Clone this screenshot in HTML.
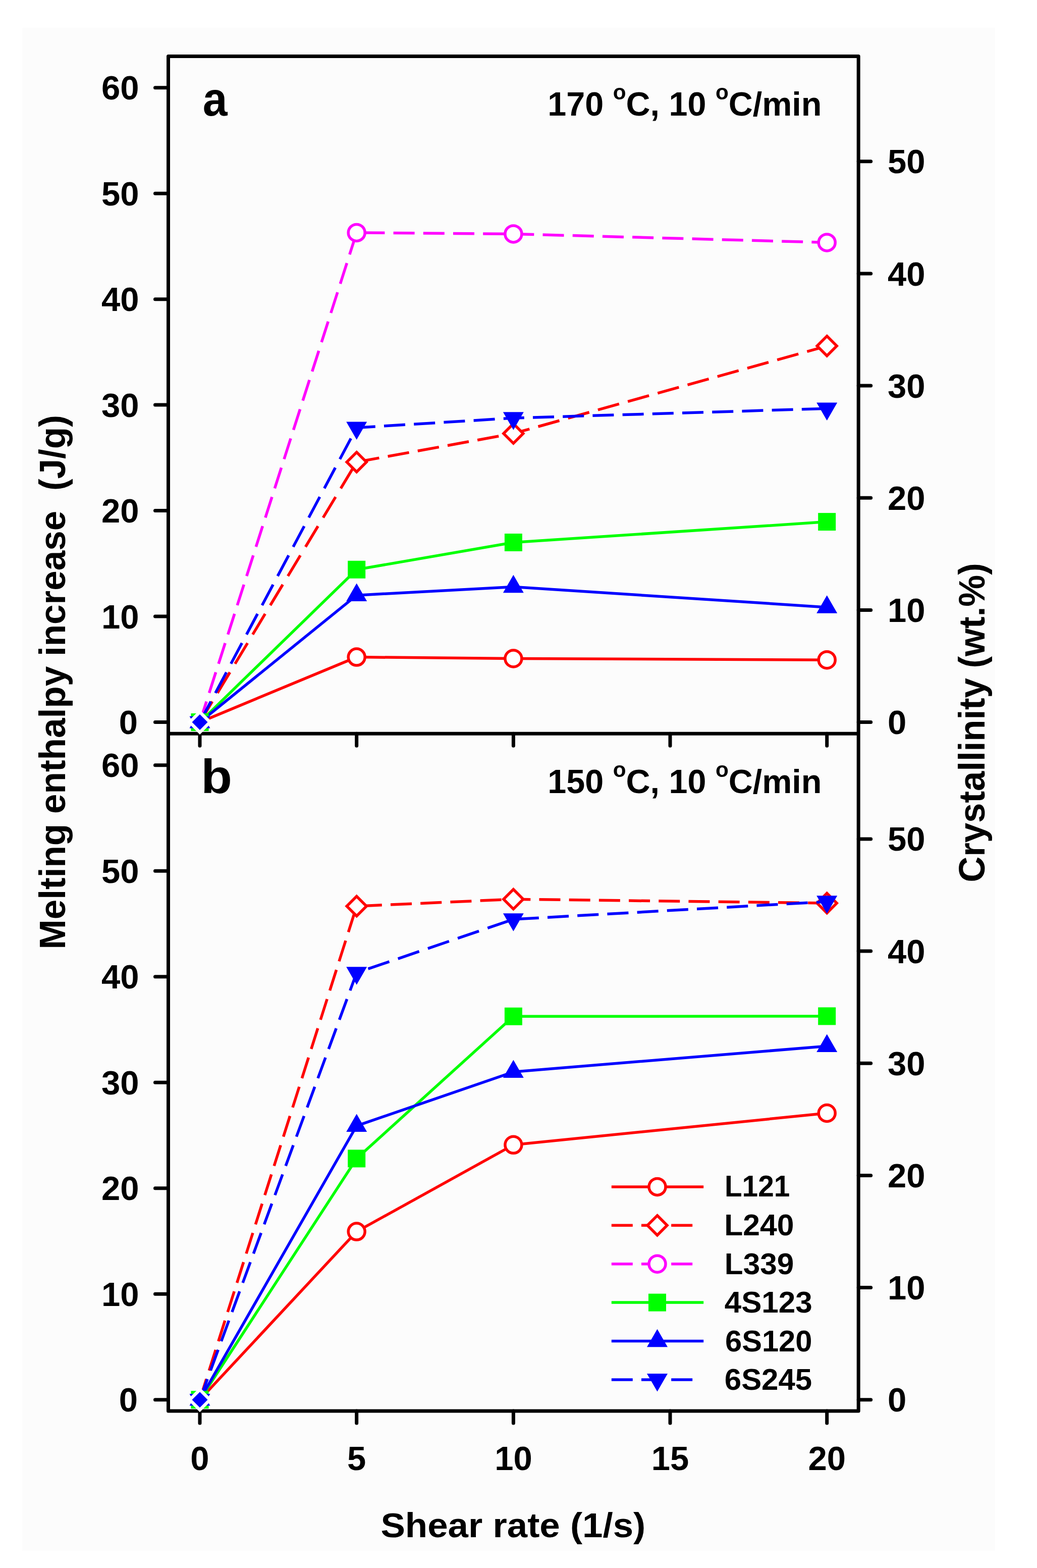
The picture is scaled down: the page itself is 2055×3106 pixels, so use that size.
<!DOCTYPE html>
<html><head><meta charset="utf-8"><title>Melting enthalpy increase vs shear rate</title>
<style>html,body{margin:0;padding:0;background:#fff;}svg{display:block;}</style></head>
<body><svg width="2055" height="3106" viewBox="0 0 2055 3106"><rect x="44" y="55" width="1928" height="3017" fill="#fcfcfc"/>
<path d="M333.5 111.5H1701.2V2795.0H333.5Z" stroke="#000" stroke-width="7" fill="none" stroke-linejoin="round"/>
<path d="M333.5 1453.2H1701.2" stroke="#000" stroke-width="7" fill="none"/>
<path d="M307.5 1430.6H333.5M307.5 1221.1H333.5M307.5 1011.6H333.5M307.5 802.1H333.5M307.5 592.7H333.5M307.5 383.2H333.5M307.5 173.7H333.5M1701.2 1430.6H1725.7M1701.2 1208.4H1725.7M1701.2 986.3H1725.7M1701.2 764.1H1725.7M1701.2 542.0H1725.7M1701.2 319.8H1725.7M396.0 1453.2V1477.2M706.7 1453.2V1477.2M1017.4 1453.2V1477.2M1328.0 1453.2V1477.2M1638.7 1453.2V1477.2M307.5 2772.7H333.5M307.5 2563.2H333.5M307.5 2353.7H333.5M307.5 2144.2H333.5M307.5 1934.8H333.5M307.5 1725.3H333.5M307.5 1515.8H333.5M1701.2 2772.7H1725.7M1701.2 2550.5H1725.7M1701.2 2328.4H1725.7M1701.2 2106.2H1725.7M1701.2 1884.1H1725.7M1701.2 1661.9H1725.7M396.0 2795.0V2819.0M706.7 2795.0V2819.0M1017.4 2795.0V2819.0M1328.0 2795.0V2819.0M1638.7 2795.0V2819.0" stroke="#000" stroke-width="7" stroke-linecap="round" fill="none"/>
<polyline points="396.0,1430.6 706.7,1301.6 1017.4,1304.5 1638.7,1307.2" fill="none" stroke="#ff0000" stroke-width="5.5" stroke-linejoin="round"/>
<circle cx="706.7" cy="1301.6" r="16.5" fill="#fff" stroke="#ff0000" stroke-width="5.5"/>
<circle cx="1017.4" cy="1304.5" r="16.5" fill="#fff" stroke="#ff0000" stroke-width="5.5"/>
<circle cx="1638.7" cy="1307.2" r="16.5" fill="#fff" stroke="#ff0000" stroke-width="5.5"/>
<line x1="396.0" y1="1430.6" x2="706.7" y2="915.3" stroke="#ff0000" stroke-width="5.5" stroke-dasharray="47.87 19.73" stroke-dashoffset="0.00"/>
<line x1="706.7" y1="915.3" x2="1017.4" y2="858.7" stroke="#ff0000" stroke-width="5.5" stroke-dasharray="42.69 17.48" stroke-dashoffset="57.43"/>
<line x1="1017.4" y1="858.7" x2="1638.7" y2="685.3" stroke="#ff0000" stroke-width="5.5" stroke-dasharray="43.61 17.86" stroke-dashoffset="10.49"/>
<path d="M706.7 895.8L726.2 915.3L706.7 934.8L687.2 915.3Z" fill="#fff" stroke="#ff0000" stroke-width="5.5" stroke-linejoin="miter"/>
<path d="M1017.4 839.2L1036.8 858.7L1017.4 878.2L997.9 858.7Z" fill="#fff" stroke="#ff0000" stroke-width="5.5" stroke-linejoin="miter"/>
<path d="M1638.7 665.8L1658.2 685.3L1638.7 704.8L1619.2 685.3Z" fill="#fff" stroke="#ff0000" stroke-width="5.5" stroke-linejoin="miter"/>
<line x1="396.0" y1="1430.6" x2="706.7" y2="460.9" stroke="#ff00ff" stroke-width="5.5" stroke-dasharray="43.05 17.75" stroke-dashoffset="0.00"/>
<line x1="706.7" y1="460.9" x2="1017.4" y2="463.4" stroke="#ff00ff" stroke-width="5.5" stroke-dasharray="42.00 17.20" stroke-dashoffset="45.50"/>
<line x1="1017.4" y1="463.4" x2="1638.7" y2="480.4" stroke="#ff00ff" stroke-width="5.5" stroke-dasharray="42.02 17.21" stroke-dashoffset="1.10"/>
<circle cx="706.7" cy="460.9" r="16.5" fill="#fff" stroke="#ff00ff" stroke-width="5.5"/>
<circle cx="1017.4" cy="463.4" r="16.5" fill="#fff" stroke="#ff00ff" stroke-width="5.5"/>
<circle cx="1638.7" cy="480.4" r="16.5" fill="#fff" stroke="#ff00ff" stroke-width="5.5"/>
<polyline points="396.0,1430.6 706.7,1128.3 1017.4,1074.5 1638.7,1033.6" fill="none" stroke="#00ff00" stroke-width="5.5" stroke-linejoin="round"/>
<rect x="689.2" y="1110.8" width="35.0" height="35.0" fill="#00ff00"/>
<rect x="999.9" y="1057.0" width="35.0" height="35.0" fill="#00ff00"/>
<rect x="1621.2" y="1016.1" width="35.0" height="35.0" fill="#00ff00"/>
<polyline points="396.0,1430.6 706.7,1179.2 1017.4,1162.5 1638.7,1202.9" fill="none" stroke="#0000ff" stroke-width="5.5" stroke-linejoin="round"/>
<polygon points="706.7,1155.5 727.2,1191.1 686.2,1191.1" fill="#0000ff"/>
<polygon points="1017.4,1138.8 1037.8,1174.3 996.9,1174.3" fill="#0000ff"/>
<polygon points="1638.7,1179.2 1659.2,1214.7 1618.2,1214.7" fill="#0000ff"/>
<line x1="396.0" y1="1430.6" x2="706.7" y2="847.2" stroke="#0000ff" stroke-width="5.5" stroke-dasharray="46.45 19.15" stroke-dashoffset="0.00"/>
<line x1="706.7" y1="847.2" x2="1017.4" y2="828.1" stroke="#0000ff" stroke-width="5.5" stroke-dasharray="42.08 17.23" stroke-dashoffset="4.91"/>
<line x1="1017.4" y1="828.1" x2="1638.7" y2="809.3" stroke="#0000ff" stroke-width="5.5" stroke-dasharray="42.02 17.21" stroke-dashoffset="20.61"/>
<polygon points="706.7,870.9 727.2,835.4 686.2,835.4" fill="#0000ff"/>
<polygon points="1017.4,851.8 1037.8,816.3 996.9,816.3" fill="#0000ff"/>
<polygon points="1638.7,832.9 1659.2,797.4 1618.2,797.4" fill="#0000ff"/>
<rect x="378.5" y="1413.1" width="35.0" height="35.0" fill="#00ff00"/>
<polygon points="396.0,1406.9 416.5,1442.4 375.5,1442.4" fill="#0000ff"/>
<polygon points="396.0,1454.3 416.5,1418.8 375.5,1418.8" fill="#0000ff"/>
<path d="M396.0 1406.1L420.5 1430.6L396.0 1455.1L371.5 1430.6Z" fill="#fff"/>
<path d="M396.0 1415.1L411.5 1430.6L396.0 1446.1L380.5 1430.6Z" fill="#0000ff"/>
<polyline points="396.0,2772.7 706.7,2439.6 1017.4,2267.8 1638.7,2205.0" fill="none" stroke="#ff0000" stroke-width="5.5" stroke-linejoin="round"/>
<circle cx="706.7" cy="2439.6" r="16.5" fill="#fff" stroke="#ff0000" stroke-width="5.5"/>
<circle cx="1017.4" cy="2267.8" r="16.5" fill="#fff" stroke="#ff0000" stroke-width="5.5"/>
<circle cx="1638.7" cy="2205.0" r="16.5" fill="#fff" stroke="#ff0000" stroke-width="5.5"/>
<line x1="396.0" y1="2772.7" x2="706.7" y2="1795.0" stroke="#ff0000" stroke-width="5.5" stroke-dasharray="43.02 17.73" stroke-dashoffset="0.00"/>
<line x1="706.7" y1="1795.0" x2="1017.4" y2="1781.2" stroke="#ff0000" stroke-width="5.5" stroke-dasharray="42.04 17.22" stroke-dashoffset="51.15"/>
<line x1="1017.4" y1="1781.2" x2="1638.7" y2="1789.0" stroke="#ff0000" stroke-width="5.5" stroke-dasharray="42.00 17.20" stroke-dashoffset="8.10"/>
<path d="M706.7 1775.5L726.2 1795.0L706.7 1814.5L687.2 1795.0Z" fill="#fff" stroke="#ff0000" stroke-width="5.5" stroke-linejoin="miter"/>
<path d="M1017.4 1761.7L1036.8 1781.2L1017.4 1800.7L997.9 1781.2Z" fill="#fff" stroke="#ff0000" stroke-width="5.5" stroke-linejoin="miter"/>
<path d="M1638.7 1769.5L1658.2 1789.0L1638.7 1808.5L1619.2 1789.0Z" fill="#fff" stroke="#ff0000" stroke-width="5.5" stroke-linejoin="miter"/>
<polyline points="396.0,2772.7 706.7,2294.9 1017.4,2013.3 1638.7,2012.9" fill="none" stroke="#00ff00" stroke-width="5.5" stroke-linejoin="round"/>
<rect x="689.2" y="2277.4" width="35.0" height="35.0" fill="#00ff00"/>
<rect x="999.9" y="1995.8" width="35.0" height="35.0" fill="#00ff00"/>
<rect x="1621.2" y="1995.4" width="35.0" height="35.0" fill="#00ff00"/>
<polyline points="396.0,2772.7 706.7,2230.1 1017.4,2123.3 1638.7,2072.2" fill="none" stroke="#0000ff" stroke-width="5.5" stroke-linejoin="round"/>
<polygon points="706.7,2206.5 727.2,2242.0 686.2,2242.0" fill="#0000ff"/>
<polygon points="1017.4,2099.6 1037.8,2135.1 996.9,2135.1" fill="#0000ff"/>
<polygon points="1638.7,2048.5 1659.2,2084.0 1618.2,2084.0" fill="#0000ff"/>
<line x1="396.0" y1="2772.7" x2="706.7" y2="1927.0" stroke="#0000ff" stroke-width="5.5" stroke-dasharray="43.68 18.00" stroke-dashoffset="0.00"/>
<line x1="706.7" y1="1927.0" x2="1017.4" y2="1821.0" stroke="#0000ff" stroke-width="5.5" stroke-dasharray="44.38 18.17" stroke-dashoffset="38.46"/>
<line x1="1017.4" y1="1821.0" x2="1638.7" y2="1786.0" stroke="#0000ff" stroke-width="5.5" stroke-dasharray="42.07 17.23" stroke-dashoffset="50.88"/>
<polygon points="706.7,1950.7 727.2,1915.2 686.2,1915.2" fill="#0000ff"/>
<polygon points="1017.4,1844.7 1037.8,1809.2 996.9,1809.2" fill="#0000ff"/>
<polygon points="1638.7,1809.7 1659.2,1774.2 1618.2,1774.2" fill="#0000ff"/>
<rect x="378.5" y="2755.2" width="35.0" height="35.0" fill="#00ff00"/>
<polygon points="396.0,2749.0 416.5,2784.5 375.5,2784.5" fill="#0000ff"/>
<polygon points="396.0,2796.4 416.5,2760.9 375.5,2760.9" fill="#0000ff"/>
<path d="M396.0 2748.2L420.5 2772.7L396.0 2797.2L371.5 2772.7Z" fill="#fff"/>
<path d="M396.0 2757.2L411.5 2772.7L396.0 2788.2L380.5 2772.7Z" fill="#0000ff"/>
<text x="273.0" y="1454.1" font-family="'Liberation Sans', Arial, sans-serif" font-weight="bold" font-size="67" text-anchor="end">0</text>
<text x="275.5" y="1244.6" font-family="'Liberation Sans', Arial, sans-serif" font-weight="bold" font-size="67" text-anchor="end">10</text>
<text x="275.5" y="1035.1" font-family="'Liberation Sans', Arial, sans-serif" font-weight="bold" font-size="67" text-anchor="end">20</text>
<text x="275.5" y="825.6" font-family="'Liberation Sans', Arial, sans-serif" font-weight="bold" font-size="67" text-anchor="end">30</text>
<text x="275.5" y="616.2" font-family="'Liberation Sans', Arial, sans-serif" font-weight="bold" font-size="67" text-anchor="end">40</text>
<text x="275.5" y="406.7" font-family="'Liberation Sans', Arial, sans-serif" font-weight="bold" font-size="67" text-anchor="end">50</text>
<text x="275.5" y="197.2" font-family="'Liberation Sans', Arial, sans-serif" font-weight="bold" font-size="67" text-anchor="end">60</text>
<text x="1759" y="1454.1" font-family="'Liberation Sans', Arial, sans-serif" font-weight="bold" font-size="67">0</text>
<text x="1759" y="1231.9" font-family="'Liberation Sans', Arial, sans-serif" font-weight="bold" font-size="67">10</text>
<text x="1759" y="1009.8" font-family="'Liberation Sans', Arial, sans-serif" font-weight="bold" font-size="67">20</text>
<text x="1759" y="787.6" font-family="'Liberation Sans', Arial, sans-serif" font-weight="bold" font-size="67">30</text>
<text x="1759" y="565.5" font-family="'Liberation Sans', Arial, sans-serif" font-weight="bold" font-size="67">40</text>
<text x="1759" y="343.3" font-family="'Liberation Sans', Arial, sans-serif" font-weight="bold" font-size="67">50</text>
<text x="273.0" y="2796.2" font-family="'Liberation Sans', Arial, sans-serif" font-weight="bold" font-size="67" text-anchor="end">0</text>
<text x="275.5" y="2586.7" font-family="'Liberation Sans', Arial, sans-serif" font-weight="bold" font-size="67" text-anchor="end">10</text>
<text x="275.5" y="2377.2" font-family="'Liberation Sans', Arial, sans-serif" font-weight="bold" font-size="67" text-anchor="end">20</text>
<text x="275.5" y="2167.8" font-family="'Liberation Sans', Arial, sans-serif" font-weight="bold" font-size="67" text-anchor="end">30</text>
<text x="275.5" y="1958.3" font-family="'Liberation Sans', Arial, sans-serif" font-weight="bold" font-size="67" text-anchor="end">40</text>
<text x="275.5" y="1748.8" font-family="'Liberation Sans', Arial, sans-serif" font-weight="bold" font-size="67" text-anchor="end">50</text>
<text x="275.5" y="1539.3" font-family="'Liberation Sans', Arial, sans-serif" font-weight="bold" font-size="67" text-anchor="end">60</text>
<text x="1759" y="2796.2" font-family="'Liberation Sans', Arial, sans-serif" font-weight="bold" font-size="67">0</text>
<text x="1759" y="2574.0" font-family="'Liberation Sans', Arial, sans-serif" font-weight="bold" font-size="67">10</text>
<text x="1759" y="2351.9" font-family="'Liberation Sans', Arial, sans-serif" font-weight="bold" font-size="67">20</text>
<text x="1759" y="2129.7" font-family="'Liberation Sans', Arial, sans-serif" font-weight="bold" font-size="67">30</text>
<text x="1759" y="1907.6" font-family="'Liberation Sans', Arial, sans-serif" font-weight="bold" font-size="67">40</text>
<text x="1759" y="1685.4" font-family="'Liberation Sans', Arial, sans-serif" font-weight="bold" font-size="67">50</text>
<text x="396.0" y="2911.5" font-family="'Liberation Sans', Arial, sans-serif" font-weight="bold" font-size="67" text-anchor="middle">0</text>
<text x="706.7" y="2911.5" font-family="'Liberation Sans', Arial, sans-serif" font-weight="bold" font-size="67" text-anchor="middle">5</text>
<text x="1017.4" y="2911.5" font-family="'Liberation Sans', Arial, sans-serif" font-weight="bold" font-size="67" text-anchor="middle">10</text>
<text x="1328.0" y="2911.5" font-family="'Liberation Sans', Arial, sans-serif" font-weight="bold" font-size="67" text-anchor="middle">15</text>
<text x="1638.7" y="2911.5" font-family="'Liberation Sans', Arial, sans-serif" font-weight="bold" font-size="67" text-anchor="middle">20</text>
<text x="401.7" y="228.5" font-family="'Liberation Sans', Arial, sans-serif" font-weight="bold" font-size="94" textLength="48.8" lengthAdjust="spacingAndGlyphs">a</text>
<text x="398.2" y="1570.5" font-family="'Liberation Sans', Arial, sans-serif" font-weight="bold" font-size="95" textLength="61.7" lengthAdjust="spacingAndGlyphs">b</text>
<text transform="translate(1085.3,0) scale(1.0075,1)" x="0" y="229.0" font-family="'Liberation Sans', Arial, sans-serif" font-weight="bold" font-size="66">170 <tspan font-size="42" dy="-32">o</tspan><tspan dy="32">C, 10 </tspan><tspan font-size="42" dy="-32">o</tspan><tspan dy="32">C/min</tspan></text>
<text transform="translate(1085.3,0) scale(1.0075,1)" x="0" y="1571.1" font-family="'Liberation Sans', Arial, sans-serif" font-weight="bold" font-size="66">150 <tspan font-size="42" dy="-32">o</tspan><tspan dy="32">C, 10 </tspan><tspan font-size="42" dy="-32">o</tspan><tspan dy="32">C/min</tspan></text>
<text transform="translate(128.5,1880.5) rotate(-90)" font-family="'Liberation Sans', Arial, sans-serif" font-weight="bold" font-size="73" xml:space="preserve" textLength="1058.4" lengthAdjust="spacingAndGlyphs">Melting enthalpy increase  (J/g)</text>
<text transform="translate(1951,1747.8) rotate(-90)" font-family="'Liberation Sans', Arial, sans-serif" font-weight="bold" font-size="73" textLength="632.5" lengthAdjust="spacingAndGlyphs">Crystallinity (wt.%)</text>
<text x="754.4" y="3045" font-family="'Liberation Sans', Arial, sans-serif" font-weight="bold" font-size="69" textLength="524.9" lengthAdjust="spacingAndGlyphs">Shear rate (1/s)</text>
<path d="M1211.8 2350.9H1394.2" stroke="#ff0000" stroke-width="5.5"/>
<circle cx="1302.5" cy="2350.9" r="16.5" fill="#fff" stroke="#ff0000" stroke-width="5.5"/>
<text x="1435.9" y="2370.3" font-family="'Liberation Sans', Arial, sans-serif" font-weight="bold" font-size="60" textLength="129.4" lengthAdjust="spacingAndGlyphs">L121</text>
<path d="M1211.8 2427.3H1376" stroke="#ff0000" stroke-width="5.5" stroke-dasharray="42 17.2"/>
<path d="M1302.5 2407.8L1322.0 2427.3L1302.5 2446.8L1283.0 2427.3Z" fill="#fff" stroke="#ff0000" stroke-width="5.5" stroke-linejoin="miter"/>
<text x="1435.2" y="2446.9" font-family="'Liberation Sans', Arial, sans-serif" font-weight="bold" font-size="60" textLength="138.3" lengthAdjust="spacingAndGlyphs">L240</text>
<path d="M1211.8 2503.7H1376" stroke="#ff00ff" stroke-width="5.5" stroke-dasharray="42 17.2"/>
<circle cx="1302.5" cy="2503.7" r="16.5" fill="#fff" stroke="#ff00ff" stroke-width="5.5"/>
<text x="1435.8" y="2523.5" font-family="'Liberation Sans', Arial, sans-serif" font-weight="bold" font-size="60" textLength="137.5" lengthAdjust="spacingAndGlyphs">L339</text>
<path d="M1211.8 2580.1H1394.2" stroke="#00ff00" stroke-width="5.5"/>
<rect x="1285.0" y="2562.6" width="35.0" height="35.0" fill="#00ff00"/>
<text x="1435.7" y="2600.1" font-family="'Liberation Sans', Arial, sans-serif" font-weight="bold" font-size="60" textLength="174.0" lengthAdjust="spacingAndGlyphs">4S123</text>
<path d="M1211.8 2656.5H1394.2" stroke="#0000ff" stroke-width="5.5"/>
<polygon points="1302.5,2632.8 1323.0,2668.3 1282.0,2668.3" fill="#0000ff"/>
<text x="1437.0" y="2676.7" font-family="'Liberation Sans', Arial, sans-serif" font-weight="bold" font-size="60" textLength="172.4" lengthAdjust="spacingAndGlyphs">6S120</text>
<path d="M1211.8 2732.9H1376" stroke="#0000ff" stroke-width="5.5" stroke-dasharray="42 17.2"/>
<polygon points="1302.5,2756.6 1323.0,2721.1 1282.0,2721.1" fill="#0000ff"/>
<text x="1435.8" y="2753.3" font-family="'Liberation Sans', Arial, sans-serif" font-weight="bold" font-size="60" textLength="173.3" lengthAdjust="spacingAndGlyphs">6S245</text></svg></body></html>
